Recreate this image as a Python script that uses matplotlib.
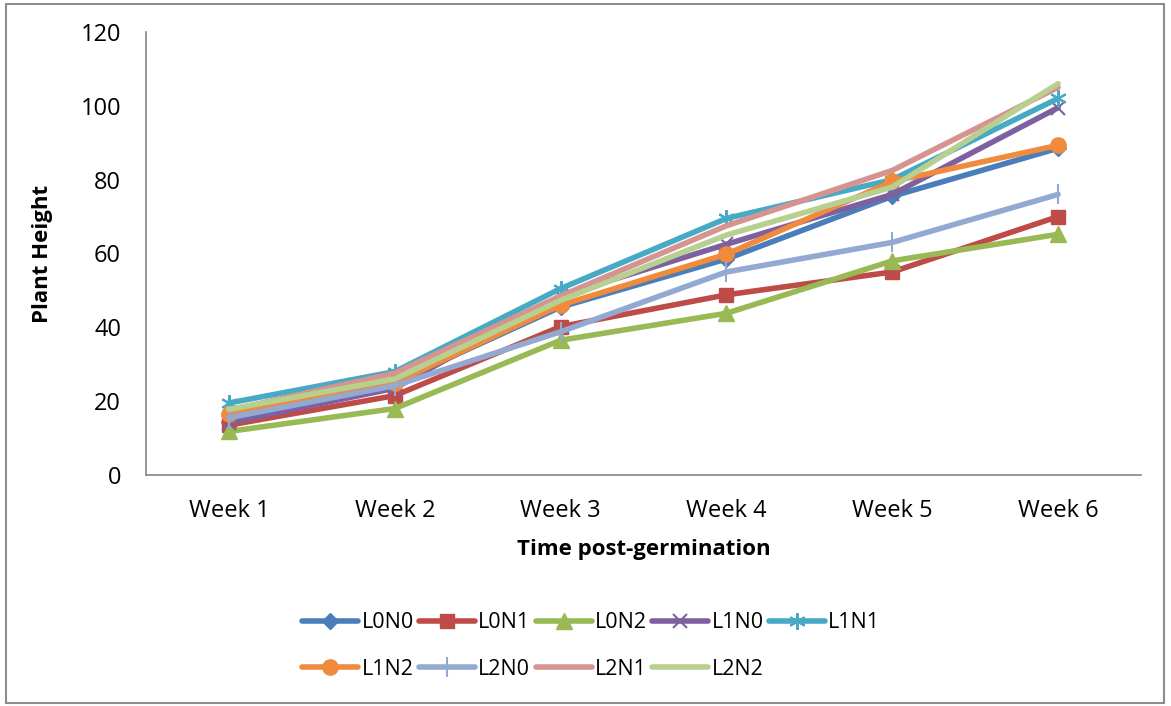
import matplotlib.pyplot as plt
from matplotlib.patches import Rectangle

plt.rcParams['font.family'] = ['Open Sans', 'DejaVu Sans']

weeks = ['Week 1', 'Week 2', 'Week 3', 'Week 4', 'Week 5', 'Week 6']
series_names = ['L0N0', 'L0N1', 'L0N2', 'L1N0', 'L1N1',
                'L1N2', 'L2N0', 'L2N1', 'L2N2']

L0N0 = [14.4, 25.0, 45.5, 58.5, 75.5, 88.5]
L0N1 = [13.5, 21.5, 40.2, 48.8, 55.0, 70.0]
L0N2 = [11.8, 18.0, 36.5, 43.8, 58.0, 65.2]
L1N0 = [14.2, 23.5, 48.5, 62.5, 76.0, 99.5]
L1N1 = [19.5, 28.0, 50.5, 69.5, 80.0, 102.0]
L1N2 = [16.5, 25.0, 46.0, 59.8, 79.5, 89.3]
L2N0 = [15.5, 24.2, 38.8, 55.0, 63.0, 76.0]
L2N1 = [17.5, 27.6, 48.5, 67.5, 82.5, 105.0]
L2N2 = [17.8, 26.0, 47.3, 65.0, 78.0, 106.0]

values = [L0N0, L0N1, L0N2, L1N0, L1N1, L1N2, L2N0, L2N1, L2N2]
colors = ['#4A7EBB', '#BE4B48', '#98B954', '#7D60A0', '#46AAC5',
          '#F08A3C', '#93A9D1', '#D69491', '#B7D08F']
markers = ['D', 's', '^', 'x', (6, 2, 0), 'o', '|', None, None]
msizes = [8, 10, 11, 10, 12, 11, 14, 0, 0]

fig = plt.figure(figsize=(11.71, 7.06), dpi=100)
ax = fig.add_axes([0.1247, 0.3272, 0.8497, 0.6275])

x = range(len(weeks))
handles = []
for name, vals, c, m, ms in zip(series_names, values, colors, markers, msizes):
    if m in ('x', '|', (6, 2, 0)):
        h, = ax.plot(x, vals, color=c, lw=4, marker=m, ms=ms, mew=1.5,
                     label=name, solid_capstyle='round')
    elif m is None:
        h, = ax.plot(x, vals, color=c, lw=4, label=name, solid_capstyle='round')
    else:
        h, = ax.plot(x, vals, color=c, lw=4, marker=m, ms=ms, mec=c, mfc=c,
                     label=name, solid_capstyle='round')
    handles.append(h)

ax.set_xlim(-0.5, len(weeks) - 0.5)
ax.set_ylim(0, 120)
ax.set_yticks(range(0, 121, 20))
ax.set_xticks(list(x))
ax.set_xticklabels(weeks)
ax.tick_params(axis='both', length=0, labelsize=17, colors='black')
ax.tick_params(axis='y', pad=18)
ax.tick_params(axis='x', pad=17)

for side in ('top', 'right'):
    ax.spines[side].set_visible(False)
for side in ('left', 'bottom'):
    ax.spines[side].set_color('#868686')
    ax.spines[side].set_linewidth(1.2)

ax.set_xlabel('Time post-germination', fontsize=16, fontweight='bold', labelpad=12)
ax.set_ylabel('Plant Height', fontsize=16, fontweight='bold', labelpad=20)

# row-major legend order for 5 columns
order = [0, 5, 1, 6, 2, 7, 3, 8, 4]
fig.legend([handles[i] for i in order], [series_names[i] for i in order],
           ncol=5, loc='center', bbox_to_anchor=(0.505, 0.085),
           frameon=False, fontsize=15.5, handlelength=2.6, handletextpad=0.15,
           columnspacing=0.25, labelspacing=1.2)

fig.add_artist(Rectangle((6 / 1171, 3 / 706), 1158 / 1171, 699 / 706,
                         transform=fig.transFigure, fill=False,
                         edgecolor='#8C8C8C', lw=1.5))

fig.savefig('out.png', dpi=100)
